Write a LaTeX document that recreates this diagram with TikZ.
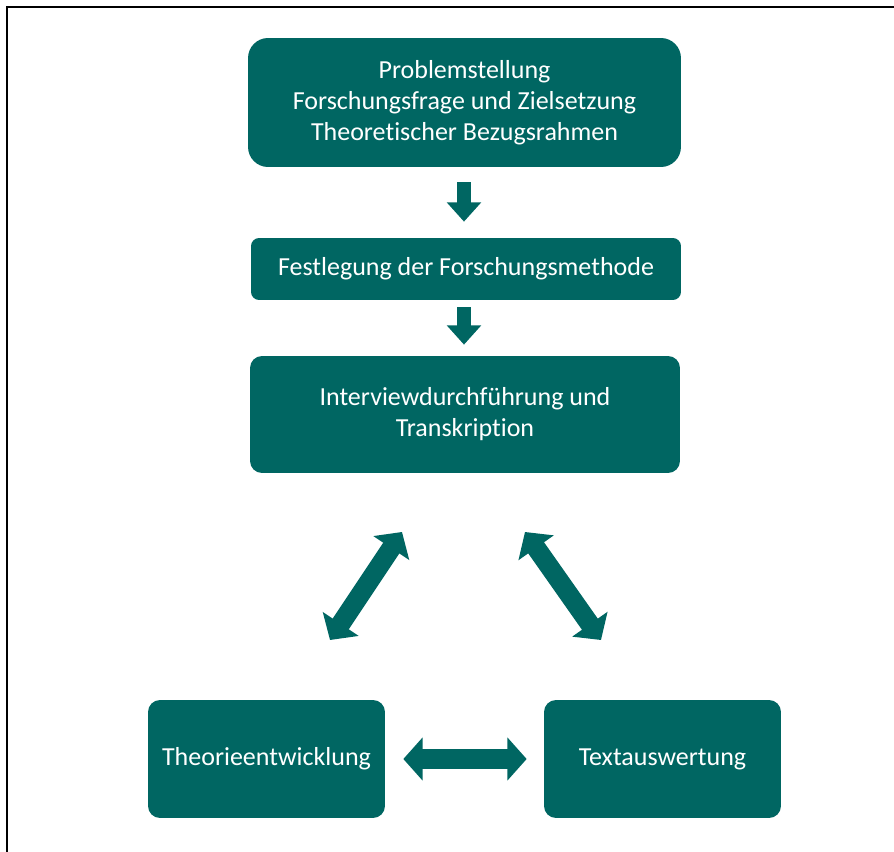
\documentclass[tikz,border=0pt]{standalone}
\usepackage{fontspec}
\setmainfont[Ligatures=NoCommon]{Carlito}
\usetikzlibrary{arrows.meta}
\definecolor{teal}{RGB}{0,102,98}

\begin{document}
\begin{tikzpicture}[x=0.02cm, y=-0.02cm,
  box/.style = {fill=teal, text=white, align=center, inner sep=0pt,
    font=\fontsize{14.8}{17.6}\selectfont},
  fwd/.style = {teal, line width=8.5pt, -{Triangle[length=11pt, width=19pt]}},
  both/.style = {teal, line width=11pt, {Triangle[length=11pt, width=24pt]}-{Triangle[length=11pt, width=24pt]}}]
\useasboundingbox (0,0) rectangle (894,852);
\draw [line width=1.3pt] (7,852) -- (7,7) -- (894,7);

\node (prob) [box, rounded corners=0.4cm, minimum width=8.66cm, minimum height=2.58cm] at (464.5,102.5)
  {Problemstellung\\Forschungsfrage und Zielsetzung\\Theoretischer Bezugsrahmen};
\node (meth) [box, rounded corners=0.16cm, minimum width=8.6cm, minimum height=1.24cm] at (466,269)
  {Festlegung der Forschungsmethode};
\node (intv) [box, rounded corners=0.24cm, minimum width=8.6cm, minimum height=2.34cm] at (465,414.5)
  {Interviewdurchführung und\\Transkription};
\node (theo) [box, rounded corners=0.24cm, minimum width=4.74cm, minimum height=2.36cm] at (266.5,759)
  {Theorieentwicklung};
\node (text) [box, rounded corners=0.24cm, minimum width=4.74cm, minimum height=2.36cm] at (662.5,759)
  {Textauswertung};

% free ends of the diagonal arrows
\coordinate (lt) at (402,532);
\coordinate (lb) at (330,640);
\coordinate (rt) at (525,532);
\coordinate (rb) at (601,640);

\draw [fwd, shorten <=0.3cm, shorten >=0.32cm] (prob.south -| 464,0) -- (meth.north -| 464,0);
\draw [fwd, shorten <=0.14cm, shorten >=0.22cm] (meth.south -| 464,0) -- (intv.north -| 464,0);
\draw [both] (lt) -- (lb);
\draw [both] (rt) -- (rb);
\draw [both, shorten <=0.36cm, shorten >=0.34cm] (theo.east) -- (text.west);
\end{tikzpicture}
\end{document}
